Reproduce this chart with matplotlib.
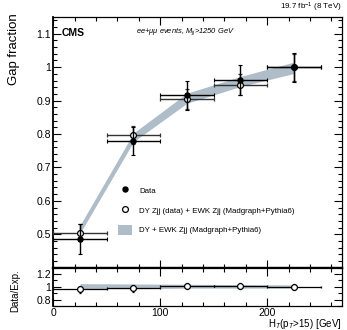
import numpy as np
import matplotlib
matplotlib.use("Agg")
import matplotlib.pyplot as plt
from matplotlib.ticker import MultipleLocator, FuncFormatter
from matplotlib.lines import Line2D
from matplotlib.patches import Patch

plt.rcParams['font.family'] = ['Liberation Sans', 'DejaVu Sans']
plt.rcParams['mathtext.fontset'] = 'custom'
plt.rcParams['mathtext.rm'] = 'Liberation Sans'
plt.rcParams['mathtext.it'] = 'Liberation Sans:italic'

# HT bins (centres and half widths)
ht = [25, 75, 125, 175, 225]
ht_err = [25, 25, 25, 25, 25]

# gap fraction, data
gap_data = [0.485, 0.778, 0.916, 0.961, 1.0]
gap_data_err = [0.045, 0.042, 0.043, 0.045, 0.043]
# DY Zjj (data) + EWK Zjj
gap_dy = [0.505, 0.797, 0.904, 0.948, 1.0]
gap_dy_err = [0.025, 0.028, 0.030, 0.032, 0.040]
# DY + EWK Zjj (MC) band
gap_mc = [0.515, 0.79, 0.907, 0.957, 0.998]
gap_mc_err = [0.012, 0.013, 0.015, 0.015, 0.017]

# data / expectation
ratio = [0.96, 0.975, 1.015, 1.012, 1.0]
ratio_err = [0.06, 0.05, 0.045, 0.045, 0.045]
ratio_lo = [0.97, 0.97, 0.98, 0.98, 0.98]
ratio_hi = [1.05, 1.045, 1.04, 1.035, 1.03]

band_col = '#aebdc8'

fig = plt.figure(figsize=(3.47, 3.30), dpi=100)
ax = fig.add_axes([0.1536, 0.1888, 0.8320, 0.7597])
rax = fig.add_axes([0.1536, 0.0727, 0.8320, 0.1161], sharex=ax)

# main panel
ax.fill_between(ht, np.array(gap_mc) - gap_mc_err, np.array(gap_mc) + gap_mc_err,
                color=band_col, lw=0, zorder=1)
ax.errorbar(ht, gap_dy, xerr=ht_err, yerr=gap_dy_err, fmt='o', ms=4.2,
            mfc='white', mec='black', mew=0.9, ecolor='#333333', elinewidth=1.0,
            capsize=1.2, capthick=0.8, zorder=3)
ax.errorbar(ht, gap_data, xerr=ht_err, yerr=gap_data_err, fmt='o', ms=3.6,
            color='black', ecolor='black', elinewidth=1.0,
            capsize=1.2, capthick=0.8, zorder=4)

ax.set_xlim(0, 270)
ax.set_ylim(0.4, 1.15)
ax.set_ylabel('Gap fraction', fontsize=9.5)
ax.yaxis.set_label_coords(-0.115, 0.87)
ax.yaxis.set_major_locator(MultipleLocator(0.1))
ax.yaxis.set_minor_locator(MultipleLocator(0.02))
ax.yaxis.set_major_formatter(FuncFormatter(lambda v, p: f'{v:g}' if v >= 0.45 else ''))
ax.tick_params(axis='x', labelbottom=False)

ax.text(0.03, 0.936, 'CMS', transform=ax.transAxes, fontsize=7.5,
        fontweight='bold', va='center', ha='left')
ax.text(0.288, 0.94, r'ee+$\mu\mu$ events, $M_{jj}$>1250 GeV', transform=ax.transAxes,
        fontsize=5.4, style='italic', va='center', ha='left')
ax.text(1.0, 1.012, r'19.7 fb$^{-1}$ (8 TeV)', transform=ax.transAxes,
        fontsize=5.8, va='bottom', ha='right')

handles = [
    Line2D([], [], ls='none', marker='o', ms=3.6, color='black'),
    Line2D([], [], ls='none', marker='o', ms=4.2, mfc='white', mec='black', mew=0.9),
    Patch(facecolor=band_col, edgecolor='none'),
]
labels = ['Data', 'DY Zjj (data) + EWK Zjj (Madgraph+Pythia6)',
          'DY + EWK Zjj (Madgraph+Pythia6)']
ax.legend(handles, labels, loc='upper left', bbox_to_anchor=(0.224, 0.328),
          frameon=False, fontsize=5.7, borderpad=0, borderaxespad=0,
          handlelength=1.8, handleheight=1.65, handletextpad=0.85,
          labelspacing=1.15)

# ratio panel
rax.fill_between(ht, ratio_lo, ratio_hi, color=band_col, lw=0, zorder=1)
rax.errorbar(ht, ratio, xerr=ht_err, yerr=ratio_err, fmt='o', ms=4.2,
             mfc='white', mec='black', mew=0.9, ecolor='black', elinewidth=0.9,
             capsize=1.0, capthick=0.7, zorder=3)
rax.set_ylim(0.7, 1.3)
rax.set_ylabel('Data/Exp.', fontsize=7)
rax.yaxis.set_label_coords(-0.115, 0.4)
rax.yaxis.set_major_locator(MultipleLocator(0.2))
rax.yaxis.set_minor_locator(MultipleLocator(0.1))
rax.yaxis.set_major_formatter(FuncFormatter(lambda v, p: f'{v:g}'))
rax.xaxis.set_major_locator(MultipleLocator(100))
rax.xaxis.set_minor_locator(MultipleLocator(20))
rax.set_xlabel(r'H$_{T}$(p$_{T}$>15) [GeV]', fontsize=7)
rax.xaxis.set_label_coords(1.0, -0.29)
rax.xaxis.label.set_ha('right')

for a in (ax, rax):
    a.tick_params(which='both', direction='in', top=True, right=True,
                  labelsize=7.5, pad=1.5, width=0.8)
    a.tick_params(which='major', length=6)
    a.tick_params(which='minor', length=3)
    for s in a.spines.values():
        s.set_linewidth(0.9)
ax.spines['bottom'].set_linewidth(1.6)
rax.spines['top'].set_linewidth(1.6)
ax.spines['left'].set_linewidth(1.3)
rax.spines['left'].set_linewidth(1.3)

fig.savefig('out.png', dpi=100)
